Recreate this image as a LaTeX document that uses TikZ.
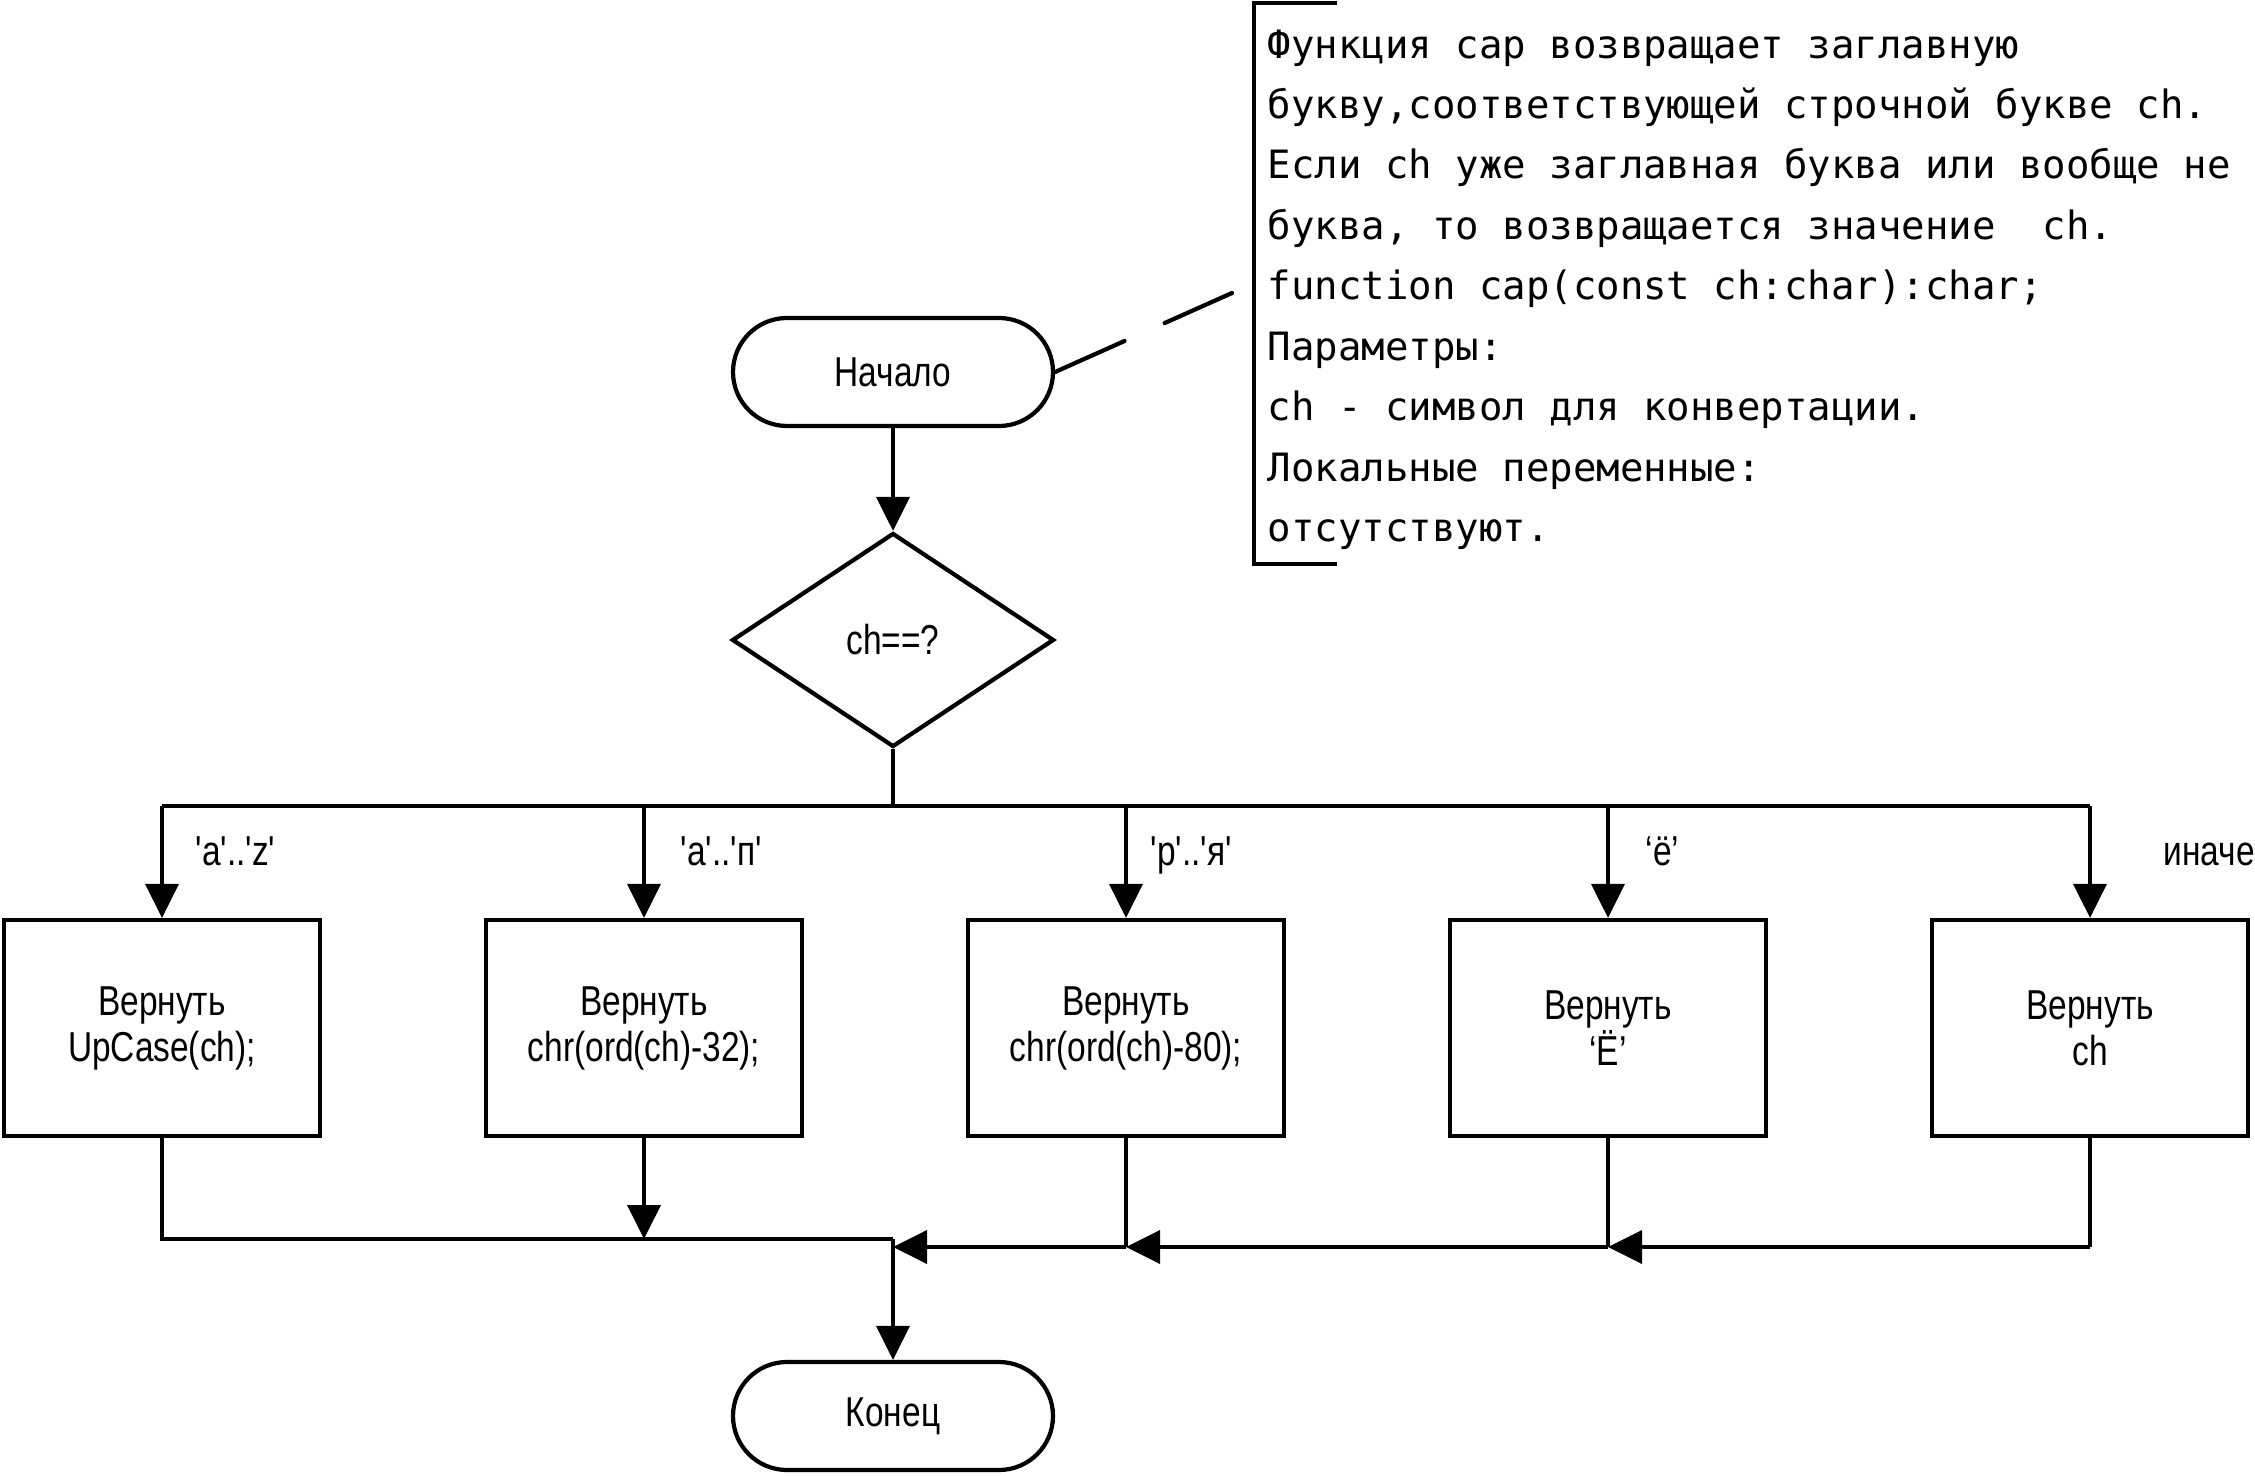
\documentclass[tikz,border=0pt]{standalone}
\usepackage{fontspec}
\newfontfamily\bsfont[FakeStretch=0.8]{Liberation Sans}
\newfontfamily\bsnotefont{DejaVu Sans Mono}
\newcommand\bstext{\bsfont\fontsize{11.9}{13.1}\selectfont}
\newcommand\bsnotetext{\bsnotefont\fontsize{11.1}{17.19}\selectfont}
\usetikzlibrary{arrows.meta,shapes.geometric}
\definecolor{bsInk}{HTML}{000000}
\tikzset{
  bs canvas/.style={fill=white},
  bs terminal/.style={
    draw=bsInk,
    line width=1.2pt,
    rounded corners=5.4mm,
    minimum width=3.2cm,
    minimum height=1.08cm,
    inner sep=0pt,
    font=\bstext,
    text=bsInk
  },
  bs decision/.style={
    diamond,
    draw=bsInk,
    line width=1.2pt,
    minimum width=3.22cm,
    minimum height=2.14cm,
    inner sep=0pt,
    font=\bstext,
    text=bsInk
  },
  bs action/.style={
    draw=bsInk,
    line width=1.2pt,
    minimum width=3.16cm,
    minimum height=2.16cm,
    inner sep=0pt,
    align=center,
    font=\bstext,
    text=bsInk
  },
  bs flow/.style={
    draw=bsInk,
    line width=1.1pt,
    -{Triangle[length=3.4mm,width=3.3mm]}
  },
  bs line/.style={draw=bsInk, line width=1.1pt},
  bs bar/.style={draw=bsInk, line width=1.4pt},
  bs label/.style={anchor=base west, inner sep=0pt, font=\bstext, text=bsInk},
  bs note/.style={anchor=north west, inner sep=0pt, align=left, font=\bsnotetext, text=bsInk},
  bs bracket/.style={draw=bsInk, line width=1.2pt},
  bs note link/.style={
    draw=bsInk,
    line width=1.2pt,
    line cap=round,
    dash pattern=on 7.6mm off 4.4mm
  }
}

\begin{document}
\begin{tikzpicture}[x=1cm,y=1cm]
  \path[bs canvas] (0,0) rectangle (22.55,14.75);

  \node[bs terminal] (start) at (8.93,11.03) {Начало};
  \node[bs decision] (test) at (8.93,8.35) {ch==?};
  \node[bs action] (upcase) at (1.62,4.47) {Вернуть\\UpCase(ch);};
  \node[bs action] (lowa) at (6.44,4.47) {Вернуть\\chr(ord(ch)-32);};
  \node[bs action] (lowr) at (11.26,4.47) {Вернуть\\chr(ord(ch)-80);};
  \node[bs action] (yo) at (16.08,4.47) {Вернуть\\‘Ё’};
  \node[bs action] (other) at (20.90,4.47) {Вернуть\\ch};
  \node[bs terminal] (stop) at (8.93,0.59) {Конец};

  \coordinate (fork) at (8.93,6.69);
  \coordinate (joinL) at (8.93,2.36);
  \coordinate (joinR) at (8.93,2.28);

  \draw[bs flow] (start) -- (test);
  \draw[bs line] (test.south) -- (fork);
  \draw[bs bar] (upcase.north |- fork) -- (other.north |- fork);
  \foreach \n in {upcase,lowa,lowr,yo,other}
    \draw[bs flow] (\n.north |- fork) -- (\n.north);

  \node[bs label] (lblaz) at (1.95,6.09) {'a'..'z'};
  \node[bs label] (lblap) at (6.80,6.09) {'а'..'п'};
  \node[bs label] (lblrya) at (11.50,6.09) {'р'..'я'};
  \node[bs label] (lblyo) at (16.45,6.09) {‘ё’};
  \node[bs label] (lblelse) at (21.63,6.09) {иначе};

  \draw[bs line] (upcase.south) -- (upcase.south |- joinL) -- (joinL);
  \draw[bs flow] (lowa.south) -- (lowa.south |- joinL);
  \draw[bs line] (other.south) -- (other.south |- joinR);
  \draw[bs flow] (other.south |- joinR) -- (yo.south |- joinR);
  \draw[bs line] (yo.south) -- (yo.south |- joinR);
  \draw[bs flow] (yo.south |- joinR) -- (lowr.south |- joinR);
  \draw[bs line] (lowr.south) -- (lowr.south |- joinR);
  \draw[bs flow] (lowr.south |- joinR) -- (joinR);
  \draw[bs flow] (joinL) -- (stop);

  \node[bs note] (note) at (12.67,14.46) {Функция cap возвращает заглавную\\
    букву,соответствующей строчной букве ch.\\
    Если ch уже заглавная буква или вообще не\\
    буква, то возвращается значение\ \ ch.\\
    function cap(const ch:char):char;\\
    Параметры:\\
    ch - символ для конвертации.\\
    Локальные переменные:\\
    отсутствуют.};
  \draw[bs bracket] (13.37,14.72) -| (12.54,9.11) -- (13.37,9.11);
  \coordinate (noteTip) at (12.32,11.82);
  \draw[bs note link] (start.east) -- (noteTip);
\end{tikzpicture}
\end{document}
